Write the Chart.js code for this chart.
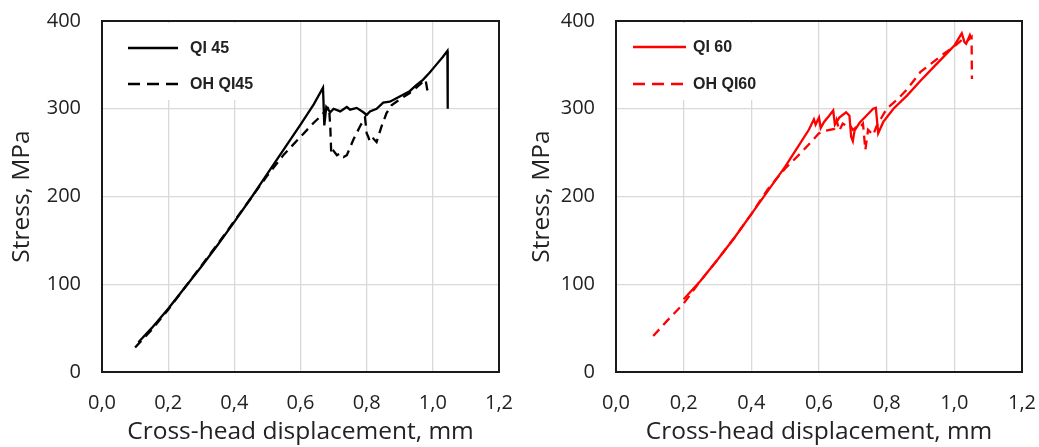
<!DOCTYPE html>
<html>
<head>
<meta charset="utf-8">
<script src="https://cdn.jsdelivr.net/npm/chart.js@4.4.1/dist/chart.umd.min.js"></script>
<style>
  body { margin:0; background:#fff; width:1039px; height:447px; overflow:hidden; }
  .caja { position:absolute; top:0; height:447px; }
</style>
</head>
<body>
<div class="caja" style="left:0;width:520px"><canvas id="g45"></canvas></div>
<div class="caja" style="left:520px;width:519px"><canvas id="g60"></canvas></div>
<script>
// ejes
const xTicks  = [0, 0.2, 0.4, 0.6, 0.8, 1.0, 1.2];
const xLabels = ['0,0','0,2','0,4','0,6','0,8','1,0','1,2'];
const yTicks  = [0, 100, 200, 300, 400];
const yLabels = ['0','100','200','300','400'];

// QI 45 (continua)
const qi45X = [0.11,0.15,0.2,0.25,0.3,0.35,0.4,0.45,0.5,0.55,0.6,0.64,0.668,0.672,0.678,0.69,0.70,0.72,0.74,0.75,0.77,0.79,0.80,0.81,0.83,0.85,0.87,0.89,0.91,0.93,0.95,0.97,0.99,1.01,1.03,1.044,1.045];
const qi45Y = [34,50,72,96,120,145,171,198,226,254,282,305,324,281,302,296,300,297,302,299,301,296,293,297,300,307,308,312,316,320,327,333,341,350,359,366,300];
// OH QI45 (discontinua)
const oh45X = [0.10,0.15,0.2,0.25,0.3,0.35,0.4,0.45,0.5,0.55,0.6,0.64,0.665,0.68,0.686,0.69,0.693,0.70,0.71,0.72,0.73,0.74,0.76,0.78,0.795,0.80,0.805,0.81,0.82,0.83,0.845,0.86,0.875,0.89,0.91,0.93,0.95,0.965,0.978,0.983,0.99];
const oh45Y = [28,48,71,96,121,146,172,198,224,248,268,284,293,300,302,280,248,252,247,249,245,247,265,280,290,272,268,262,266,262,280,295,304,308,313,318,324,329,333,322,318];

// QI 60 (continua)
const qi60X = [0.20,0.25,0.30,0.35,0.40,0.45,0.50,0.54,0.57,0.585,0.59,0.60,0.605,0.615,0.63,0.642,0.647,0.66,0.68,0.69,0.695,0.70,0.705,0.72,0.74,0.76,0.768,0.775,0.79,0.82,0.86,0.90,0.94,0.98,1.0,1.022,1.03,1.035,1.046,1.05];
const qi60Y = [83,104,128,153,180,207,234,258,276,288,282,290,278,285,292,298,282,290,296,292,268,263,275,284,292,300,301,272,285,300,315,332,348,364,372,386,376,374,384,380];
// OH QI60 (discontinua)
const oh60X = [0.11,0.15,0.2,0.25,0.3,0.35,0.4,0.45,0.5,0.55,0.6,0.62,0.645,0.652,0.66,0.67,0.68,0.69,0.70,0.71,0.72,0.73,0.737,0.745,0.76,0.77,0.785,0.80,0.83,0.86,0.9,0.94,0.97,1.0,1.027,1.04,1.051,1.052];
const oh60Y = [41,58,78,104,128,153,180,209,232,251,272,275,277,287,275,283,281,282,276,279,278,283,253,276,270,280,290,300,310,322,342,354,363,371,380,378,382,334];

const pts = (xs, ys) => xs.map((x, i) => ({ x, y: ys[i] }));

// marco y leyenda
const marco = {
  id: 'marco',
  beforeDatasetsDraw(chart, args, o) {
    const c = chart.ctx;
    c.save();
    c.fillStyle = '#fff';
    c.fillRect(o.box[0], o.box[1], o.box[2], o.box[3]);
    c.restore();
  },
  afterDraw(chart, args, o) {
    const c = chart.ctx, a = chart.chartArea;
    c.save();
    c.strokeStyle = '#1a1a1a';
    c.lineWidth = 2;
    c.strokeRect(a.left, a.top, a.right - a.left, a.bottom - a.top);
    c.font = 'bold 16px "Liberation Sans", Arial, sans-serif';
    c.textBaseline = 'middle';
    chart.data.datasets.forEach((ds, i) => {
      const y = o.rows[i];
      c.strokeStyle = ds.borderColor;
      c.lineWidth = 2.5;
      c.setLineDash(ds.borderDash ? [12, 7] : []);
      c.beginPath(); c.moveTo(o.line[0], y); c.lineTo(o.line[1], y); c.stroke();
      c.fillStyle = '#222';
      c.fillText(ds.label, o.text, y + 1);
    });
    c.restore();
  }
};

function grafica(id, color, sets, yW, padR, leg) {
  const font = { family: '"Open Sans", sans-serif', size: 20 };
  const tfont = { family: '"Open Sans", sans-serif', size: 24.5 };
  new Chart(document.getElementById(id), {
    type: 'line',
    data: { datasets: sets.map(s => ({
      label: s.label, data: s.data, borderColor: color, borderWidth: 2.3,
      borderDash: s.dash, pointRadius: 0, tension: 0, fill: false
    })) },
    options: {
      responsive: true, maintainAspectRatio: false, animation: false,
      layout: { padding: { left: 0, right: padR, top: 21, bottom: 0 } },
      plugins: { legend: { display: false }, tooltip: { enabled: false }, marco: leg },
      scales: {
        x: {
          type: 'linear', min: 0, max: 1.2,
          afterBuildTicks: s => { s.ticks = xTicks.map(v => ({ value: v })); },
          afterFit: s => { s.height = 75; s.paddingLeft = 0; s.paddingRight = 0; },
          ticks: { callback: (v, i) => xLabels[i], font, color: '#222', padding: 19, maxRotation: 0, autoSkip: false },
          grid: { color: '#d9d9d9', lineWidth: 1.3, drawTicks: false },
          border: { display: false },
          title: { display: true, text: 'Cross-head displacement, mm', color: '#222', font: tfont, padding: 0 }
        },
        y: {
          type: 'linear', min: 0, max: 400,
          afterBuildTicks: s => { s.ticks = yTicks.map(v => ({ value: v })); },
          afterFit: s => { s.width = yW; s.paddingTop = 0; s.paddingBottom = 0; },
          ticks: { callback: (v, i) => yLabels[i], font, color: '#222', padding: 21, autoSkip: false },
          grid: { color: '#d9d9d9', lineWidth: 1.3, drawTicks: false },
          border: { display: false },
          title: { display: true, text: 'Stress, MPa', color: '#222', font: tfont, padding: { top: 7, bottom: 0 } }
        }
      }
    },
    plugins: [marco]
  });
}

grafica('g45', '#000', [
  { label: 'QI 45',   data: pts(qi45X, qi45Y) },
  { label: 'OH QI45', data: pts(oh45X, oh45Y), dash: [9, 6] }
], 102, 21, { box: [104, 23, 169, 77], line: [128, 178], text: 190, rows: [48, 84] });

grafica('g60', '#ff0000', [
  { label: 'QI 60',   data: pts(qi60X, qi60Y) },
  { label: 'OH QI60', data: pts(oh60X, oh60Y), dash: [9, 6] }
], 96, 17, { box: [98, 23, 160, 77], line: [113, 166], text: 173, rows: [47, 84] });
</script>
</body>
</html>
